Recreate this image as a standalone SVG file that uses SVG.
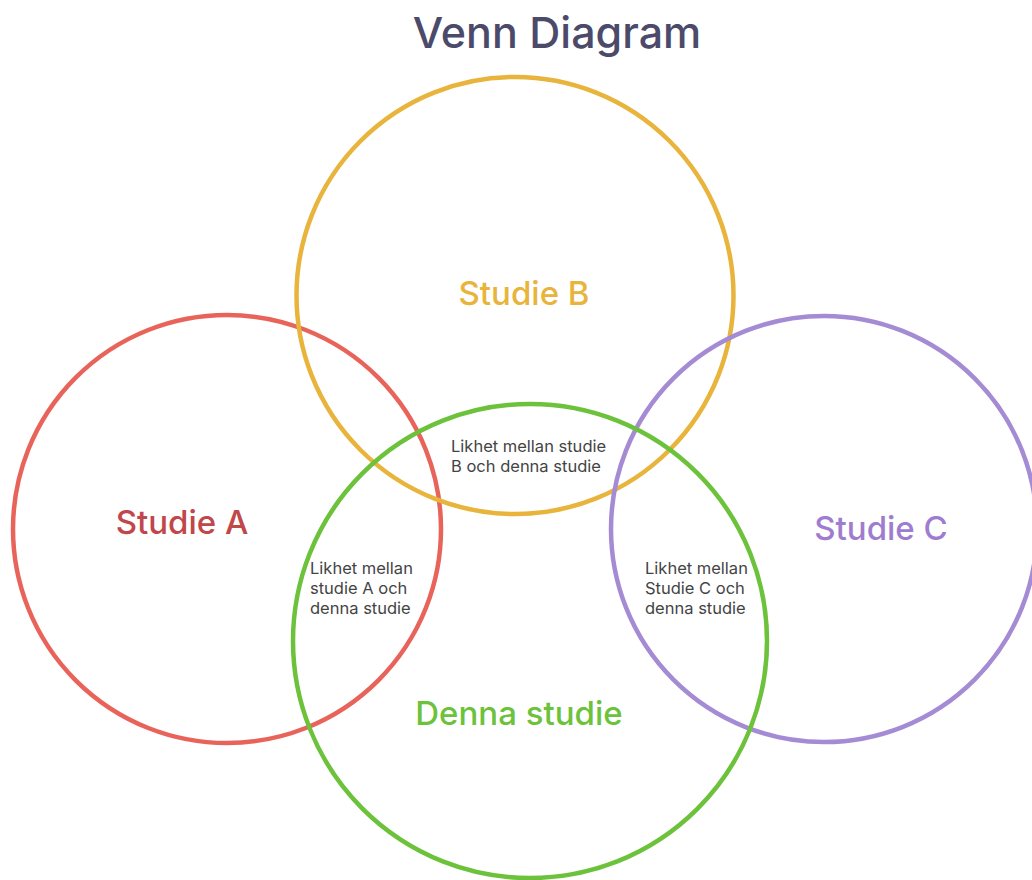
<svg xmlns="http://www.w3.org/2000/svg" width="1032" height="880" viewBox="0 0 1032 880">
<style>
.c{fill:none;stroke-width:4.5}
.big{font-family:Inter,"Noto Sans",sans-serif;font-size:33px;font-weight:500;text-anchor:middle}
.sm{font-family:Inter,"Noto Sans",sans-serif;font-size:16.5px;fill:#444}
</style>
<rect width="1032" height="880" fill="#fff"/>
<text x="557" y="48" font-family="Inter,'Noto Sans',sans-serif" font-size="43" font-weight="500" fill="#4B4A6A" text-anchor="middle">Venn Diagram</text>
<g id="studie-a"><circle class="c" cx="227" cy="529" r="214" stroke="#E8645A"/><text class="big" x="182" y="534" fill="#C0474A">Studie A</text></g>
<g id="studie-b"><circle class="c" cx="515" cy="295.5" r="218.5" stroke="#E8B43C"/><text class="big" x="524" y="305" fill="#E8B43C">Studie B</text></g>
<g id="studie-c"><circle class="c" cx="824" cy="529" r="213" stroke="#A48BD4"/><text class="big" x="881" y="540" fill="#9E7DD0">Studie C</text></g>
<g id="denna-studie"><circle class="c" cx="530" cy="641" r="237" stroke="#6CC23A"/><text class="big" x="519" y="725" fill="#6CC23A">Denna studie</text></g>
<g id="ab"><text class="sm" x="451" y="452">Likhet mellan studie</text><text class="sm" x="451" y="472">B och denna studie</text></g>
<g id="aa"><text class="sm" x="310" y="574">Likhet mellan</text><text class="sm" x="310" y="594">studie A och</text><text class="sm" x="310" y="614">denna studie</text></g>
<g id="ac"><text class="sm" x="645" y="574">Likhet mellan</text><text class="sm" x="645" y="594">Studie C och</text><text class="sm" x="645" y="614">denna studie</text></g>
<g id="connectors"/>
</svg>
